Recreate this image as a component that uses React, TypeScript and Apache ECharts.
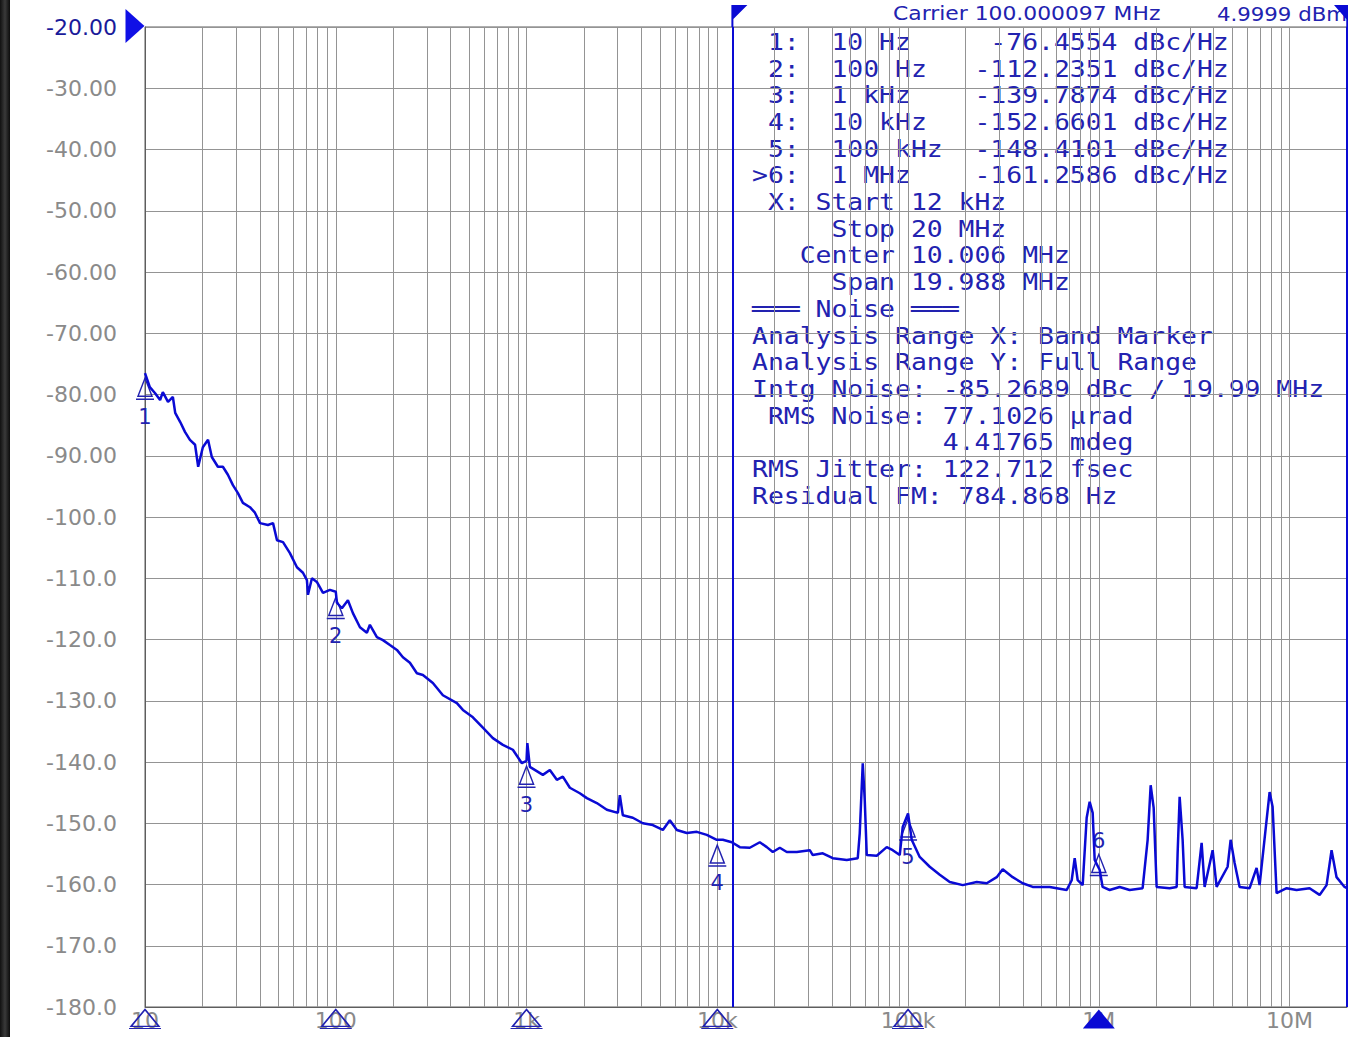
import React, { useEffect, useRef } from 'react';
import * as echarts from 'echarts';

// Offset frequency (Hz) and phase noise (dBc/Hz)
const freqHz = [
  10, 10.6, 11.3, 12.0, 12.4, 13.2, 14.0, 14.4, 15.3, 16.2,
  17.2, 18.3, 19.0, 20.1, 21.4, 22.4, 24.1, 25.6, 27.2, 28.9,
  30.7, 32.6, 35.5, 37.7, 40.1, 44.1, 46.9, 49.2, 52.9, 57.5,
  62.6, 67.3, 70.6, 71.5, 75.0, 79.6, 85.7, 93.2, 100, 101.4,
  107.7, 115.8, 123.0, 133.9, 145.6, 151.0, 164.3, 176.7, 192.2, 209.2,
  224.9, 244.7, 266.3, 286.3, 322.9, 364.4, 431.5, 463.9, 523.4, 590.4,
  666.1, 751.6, 848, 945.5, 1000, 1010, 1041, 1218, 1325, 1442,
  1550, 1687, 1903, 2071, 2336, 2636, 3011, 3084, 3198, 3608,
  4071, 4592, 5183, 5640, 6136, 6922, 7810, 8810, 9940, 10690,
  11920, 13120, 14800, 16710, 18180, 19540, 21270, 23140, 26110, 30540,
  31660, 35730, 40310, 47720, 54490, 55820, 57880, 59290, 60740, 68520,
  77310, 83120, 90450, 93780, 100000, 104500, 115100, 129900, 146600, 165400,
  193500, 229100, 258500, 291600, 313400, 353700, 399000, 450100, 552700, 678700,
  720900, 747400, 775000, 823000, 863700, 895500, 928600, 951300, 1010000, 1047000,
  1140000, 1286000, 1451000, 1697000, 1803000, 1870000, 1939000, 2010000, 2351000, 2559000,
  2589000, 2653000, 2750000, 2818000, 3257000, 3459000, 3586000, 3951000, 4146000, 4734000,
  4909000, 5151000, 5471000, 6173000, 6716000, 6964000, 7858000, 8147000, 8551000, 9646000,
  10880000, 12730000, 14370000, 15630000, 16600000, 17630000, 19420000, 20000000,
];

const noiseDbcHz = [
  -76.5, -78.8, -79.8, -80.9, -79.6, -81.2, -80.4, -83.0, -84.5, -86.1,
  -87.4, -88.2, -91.8, -88.6, -87.4, -90.2, -91.8, -91.8, -93.1, -94.8,
  -96.1, -97.7, -98.4, -99.3, -101.0, -101.3, -101.0, -103.8, -104.1, -105.9,
  -108.2, -109.1, -110.3, -112.7, -110.0, -110.6, -112.4, -111.9, -112.2, -114.0,
  -114.9, -113.6, -115.7, -118.0, -118.9, -117.6, -119.6, -120.1, -120.9, -121.7,
  -122.9, -123.8, -125.5, -125.8, -127.1, -129.1, -130.4, -131.5, -132.7, -134.4,
  -136.1, -137.2, -138.0, -140.2, -139.8, -136.9, -140.8, -142.1, -141.3, -142.9,
  -142.4, -144.2, -145.1, -145.9, -146.7, -147.8, -148.3, -145.4, -148.7, -149.1,
  -150.0, -150.3, -151.1, -149.5, -151.1, -151.6, -151.4, -151.9, -152.7, -152.7,
  -153.1, -153.9, -154.0, -153.1, -153.9, -154.7, -154.0, -154.7, -154.7, -154.4,
  -155.2, -154.9, -155.7, -156.0, -155.7, -151.6, -140.2, -146.2, -155.2, -155.3,
  -153.9, -154.4, -155.2, -150.6, -148.4, -152.7, -155.5, -157.1, -158.4, -159.6,
  -160.1, -159.6, -159.8, -158.8, -157.5, -158.8, -159.8, -160.4, -160.4, -160.9,
  -159.3, -155.7, -159.3, -160.1, -149.1, -146.5, -148.3, -156.0, -157.6, -160.4,
  -160.9, -160.4, -160.9, -160.6, -152.7, -143.8, -147.5, -160.4, -160.6, -160.4,
  -154.9, -145.7, -152.7, -160.4, -160.6, -153.2, -160.4, -154.4, -160.4, -157.1,
  -152.7, -156.5, -160.4, -160.6, -157.3, -160.1, -144.9, -147.3, -161.4, -160.6,
  -160.9, -160.6, -161.7, -160.1, -154.4, -158.8, -160.4, -160.6,
];

// Markers
const markerNames = ['1', '2', '3', '4', '5', '6'];
const markerFreqs = [10, 100, 1000, 10000, 100000, 1000000];
const markerLevels = [-76.4554, -112.2351, -139.7874, -152.6601, -148.4101, -154.7];

// Axes
const xMin = 10;
const xMax = 20000000;
const yMin = -180;
const yMax = -20;
const yStep = 10;
const decadeValues = [10, 100, 1000, 10000, 100000, 1000000, 10000000];
const decadeLabels = ['10', '100', '1k', '10k', '100k', '1M', '10M'];
const minorMultipliers = [2, 3, 4, 5, 6, 7, 8, 9];

// Band marker (integration range)
const bandStart = 12000;
const bandStop = 20000000;

const carrierText = 'Carrier 100.000097 MHz';
const carrierPower = '4.9999 dBm';

const infoLines = [
  ' 1:  10 Hz     -76.4554 dBc/Hz',
  ' 2:  100 Hz   -112.2351 dBc/Hz',
  ' 3:  1 kHz    -139.7874 dBc/Hz',
  ' 4:  10 kHz   -152.6601 dBc/Hz',
  ' 5:  100 kHz  -148.4101 dBc/Hz',
  '>6:  1 MHz    -161.2586 dBc/Hz',
  ' X: Start 12 kHz',
  '     Stop 20 MHz',
  '   Center 10.006 MHz',
  '     Span 19.988 MHz',
  '\u2550\u2550\u2550 Noise \u2550\u2550\u2550',
  'Analysis Range X: Band Marker',
  'Analysis Range Y: Full Range',
  'Intg Noise: -85.2689 dBc / 19.99 MHz',
  ' RMS Noise: 77.1026 \u00b5rad',
  '            4.41765 mdeg',
  'RMS Jitter: 122.712 fsec',
  'Residual FM: 784.868 Hz',
];

const BLUE = '#0a0ad4';
const TEXT_BLUE = '#2222b0';
const GRID_GRAY = '#949494';
const LABEL_GRAY = '#8a8a8a';

const markerSymbol = 'path://M9,0 L16,18 L2,18 Z M0,21 L18,21';
const axisTriSymbol = 'path://M16,0 L30,16 L2,16 Z M0,18 L32,18';
const axisTriFilled = 'path://M16,0 L32,18 L0,18 Z';

export default function App() {
  const ref = useRef<HTMLDivElement>(null);

  useEffect(() => {
    if (!ref.current) return;
    const chart = echarts.init(ref.current, undefined, { renderer: 'svg' });

    const minorFreqs: number[] = [];
    decadeValues.forEach((d) => {
      minorMultipliers.forEach((m) => {
        const f = d * m;
        if (f < xMax) minorFreqs.push(f);
      });
    });

    const labelFor = (v: number) => {
      const lg = Math.log10(v);
      const r = Math.round(lg);
      if (Math.abs(lg - r) > 1e-6) return '';
      const idx = decadeValues.findIndex((d) => Math.abs(Math.log10(d) - r) < 1e-6);
      return idx >= 0 ? decadeLabels[idx] : '';
    };

    const option: any = {
      animation: false,
      backgroundColor: '#ffffff',
      grid: {
        left: 145,
        top: 27,
        right: 10,
        bottom: 30,
        show: true,
        borderColor: '#5e5e5e',
        borderWidth: 1,
        backgroundColor: 'transparent',
      },
      xAxis: {
        type: 'log',
        logBase: 10,
        min: xMin,
        max: xMax,
        axisLine: { show: true, onZero: false, lineStyle: { color: '#5e5e5e', width: 1 } },
        axisTick: { show: false },
        splitLine: { show: true, lineStyle: { color: GRID_GRAY, width: 1 } },
        axisLabel: {
          formatter: (v: number) => labelFor(v),
          color: LABEL_GRAY,
          fontSize: 22,
          fontFamily: 'DejaVu Sans',
          margin: 2,
        },
      },
      yAxis: {
        type: 'value',
        min: yMin,
        max: yMax,
        interval: yStep,
        axisLine: { show: true, onZero: false, lineStyle: { color: '#5e5e5e', width: 1 } },
        axisTick: { show: false },
        splitLine: { show: true, lineStyle: { color: GRID_GRAY, width: 1 } },
        axisLabel: {
          formatter: (v: number) => (Math.abs(v) >= 100 ? v.toFixed(1) : v.toFixed(2)),
          color: (v: any) => (Number(v) === yMax ? '#1a1a9a' : LABEL_GRAY),
          fontSize: 22,
          fontFamily: 'DejaVu Sans',
          margin: 28,
        },
      },
      series: [
        {
          name: 'minor grid',
          type: 'line',
          data: [],
          z: 1,
          silent: true,
          markLine: {
            silent: true,
            symbol: ['none', 'none'],
            label: { show: false },
            lineStyle: { color: GRID_GRAY, width: 1, type: 'solid' },
            data: minorFreqs.map((f) => ({ xAxis: f })),
          },
        },
        {
          name: 'phase noise',
          type: 'line',
          data: freqHz.map((f, i) => [f, noiseDbcHz[i]]),
          showSymbol: false,
          symbol: 'none',
          z: 5,
          lineStyle: { color: BLUE, width: 2.5 },
          markPoint: {
            silent: true,
            symbol: markerSymbol,
            symbolSize: [18, 21],
            symbolOffset: [0, 16],
            itemStyle: { color: 'rgba(0,0,0,0)', borderColor: TEXT_BLUE, borderWidth: 1.5 },
            label: {
              show: true,
              position: 'bottom',
              distance: 6,
              color: TEXT_BLUE,
              fontSize: 21,
              fontFamily: 'DejaVu Sans',
              formatter: (p: any) => p.name,
            },
            data: markerNames.map((n, i) =>
              i === 5
                ? {
                    name: n,
                    coord: [markerFreqs[i], markerLevels[i]],
                    symbolOffset: [0, 13],
                    label: { position: 'top', distance: 2 },
                  }
                : { name: n, coord: [markerFreqs[i], markerLevels[i]] }
            ),
          },
        },
        {
          name: 'band',
          type: 'line',
          data: [],
          z: 6,
          silent: true,
          markLine: {
            silent: true,
            symbol: ['none', 'none'],
            label: { show: false },
            lineStyle: { color: BLUE, width: 2, type: 'solid' },
            data: [{ xAxis: bandStart }, { xAxis: bandStop }],
          },
          markPoint: {
            silent: true,
            label: { show: false },
            data: [
              {
                coord: [bandStart, yMax],
                symbol: 'path://M0,0 L16,0 L2,14 L2,22 L0,22 Z',
                symbolSize: [16, 22],
                symbolOffset: [7, -11],
                itemStyle: { color: BLUE },
              },
              {
                coord: [bandStop, yMax],
                symbol: 'path://M16,0 L0,0 L14,14 L14,22 L16,22 Z',
                symbolSize: [14, 22],
                symbolOffset: [-6, -11],
                itemStyle: { color: BLUE },
              },
              {
                coord: [xMin, yMax],
                symbol: 'path://M0,0 L1,0.5 L0,1 Z',
                symbolSize: [19, 34],
                symbolOffset: [-10, -1],
                itemStyle: { color: '#1010e6' },
              },
              ...markerFreqs.map((f, i) => ({
                coord: [f, yMin],
                symbol: i === 5 ? axisTriFilled : axisTriSymbol,
                symbolSize: [32, 19],
                symbolOffset: [0, 12],
                itemStyle:
                  i === 5
                    ? { color: BLUE }
                    : { color: 'rgba(0,0,0,0)', borderColor: TEXT_BLUE, borderWidth: 1.5 },
              })),
            ],
          },
        },
      ],
      graphic: [
        {
          type: 'rect',
          shape: { x: 0, y: 0, width: 10, height: 1037 },
          style: {
            fill: new echarts.graphic.LinearGradient(0, 0, 1, 0, [
              { offset: 0, color: '#111111' },
              { offset: 0.5, color: '#3a3a3a' },
              { offset: 1, color: '#0c0c0c' },
            ]),
          },
          silent: true,
        },
        {
          type: 'group',
          x: 893,
          y: 14,
          scaleX: 1.15,
          silent: true,
          children: [
            {
              type: 'text',
              x: 0,
              y: 0,
              style: {
                text: carrierText,
                font: '19px "DejaVu Sans"',
                fill: TEXT_BLUE,
                verticalAlign: 'middle',
              },
            },
          ],
        },
        {
          type: 'group',
          x: 1217,
          y: 14,
          scaleX: 1.12,
          silent: true,
          children: [
            {
              type: 'text',
              x: 0,
              y: 0,
              style: {
                text: carrierPower,
                font: '19px "DejaVu Sans"',
                fill: TEXT_BLUE,
                verticalAlign: 'middle',
              },
            },
          ],
        },
        {
          type: 'group',
          x: 752,
          y: 28.6,
          scaleX: 1.148,
          silent: true,
          children: [
            {
              type: 'text',
              x: 0,
              y: 0,
              style: {
                text: infoLines.join('\n'),
                font: '23px "DejaVu Sans Mono"',
                lineHeight: 26.7,
                fill: TEXT_BLUE,
                verticalAlign: 'top',
              },
            },
          ],
        },
      ],
    };

    chart.setOption(option);
    return () => chart.dispose();
  }, []);

  return (
    <div
      ref={ref}
      style={{ position: 'absolute', left: 0, top: 0, width: 1357, height: 1037 }}
    />
  );
}
